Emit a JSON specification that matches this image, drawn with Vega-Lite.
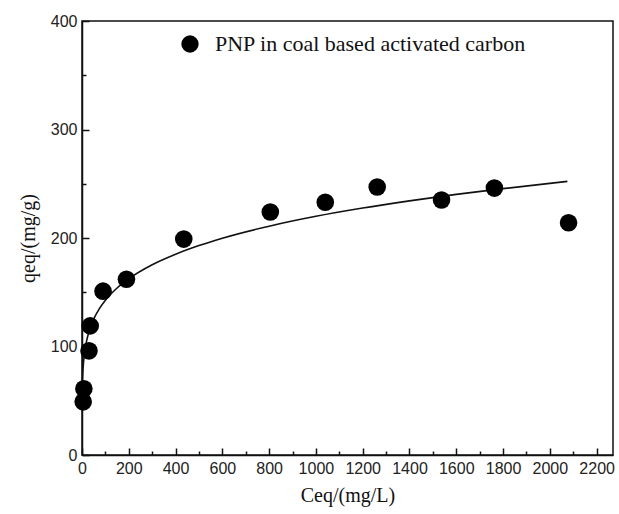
{
  "$schema": "https://vega.github.io/schema/vega-lite/v6.json",
  "autosize": "none",
  "width": 531,
  "height": 434,
  "padding": {"left": 82, "top": 21, "right": 6, "bottom": 59},
  "background": "white",
  "config": {
    "view": {"stroke": "#111", "strokeWidth": 1.5},
    "axis": {
      "domainColor": "#111", "domainWidth": 1.5, "tickColor": "#111", "tickWidth": 1.5,
      "grid": false, "labelFont": "Liberation Sans", "labelFontSize": 16, "labelColor": "#222",
      "titleFont": "Liberation Serif", "titleFontSize": 20, "titleFontWeight": "normal", "titleColor": "#111"
    }
  },
  "datasets": {
    "pts": [
      {"C": 5, "q": 49}, {"C": 8, "q": 61}, {"C": 30, "q": 96}, {"C": 35, "q": 119},
      {"C": 90, "q": 151}, {"C": 190, "q": 162}, {"C": 435, "q": 199}, {"C": 805, "q": 224},
      {"C": 1040, "q": 233}, {"C": 1262, "q": 247}, {"C": 1537, "q": 235}, {"C": 1763, "q": 246},
      {"C": 2080, "q": 214}
    ],
    "fit": [
      {"C": 0.5, "q": 52.7}, {"C": 1, "q": 60}, {"C": 2, "q": 68.3}, {"C": 5, "q": 81.2},
      {"C": 10, "q": 92.5}, {"C": 20, "q": 105.4}, {"C": 30, "q": 113.7}, {"C": 50, "q": 125.2},
      {"C": 75, "q": 135.1}, {"C": 100, "q": 142.6}, {"C": 150, "q": 153.9}, {"C": 200, "q": 162.4},
      {"C": 300, "q": 175.3}, {"C": 400, "q": 185.0}, {"C": 500, "q": 193.0}, {"C": 600, "q": 199.8},
      {"C": 800, "q": 210.9}, {"C": 1000, "q": 220.0}, {"C": 1200, "q": 227.6}, {"C": 1400, "q": 234.2},
      {"C": 1600, "q": 240.2}, {"C": 1800, "q": 245.5}, {"C": 2075, "q": 252.2}
    ]
  },
  "encoding": {
    "x": {
      "field": "C", "type": "quantitative",
      "scale": {"domain": [0, 2270], "nice": false, "zero": false},
      "axis": {
        "title": "Ceq/(mg/L)",
        "values": [0,100,200,300,400,500,600,700,800,900,1000,1100,1200,1300,1400,1500,1600,1700,1800,1900,2000,2100,2200],
        "labelExpr": "datum.value % 200 === 0 ? datum.label : ''",
        "format": "d",
        "tickSize": {"condition": {"test": "datum.value % 200 === 0", "value": -7}, "value": -4},
        "labelPadding": 12, "titlePadding": 6, "labelFlush": false, "labelOverlap": false
      }
    },
    "y": {
      "field": "q", "type": "quantitative",
      "scale": {"domain": [0, 400], "nice": false},
      "axis": {
        "title": "qeq/(mg/g)",
        "values": [0,50,100,150,200,250,300,350,400],
        "labelExpr": "datum.value % 100 === 0 ? datum.label : ''",
        "tickSize": {"condition": {"test": "datum.value % 100 === 0", "value": -7}, "value": -4},
        "labelPadding": 12, "titlePadding": 12, "labelFlush": false, "labelOverlap": false
      }
    }
  },
  "layer": [
    {
      "data": {"name": "fit"},
      "mark": {"type": "line", "color": "#111", "strokeWidth": 1.6, "interpolate": "monotone"}
    },
    {
      "data": {"name": "pts"},
      "mark": {"type": "point", "shape": "circle", "filled": true, "size": 310, "opacity": 1},
      "encoding": {
        "color": {
          "datum": "PNP in coal based activated carbon",
          "scale": {"range": ["#000"]},
          "legend": {
            "title": null, "orient": "none", "legendX": 97, "legendY": 12,
            "symbolType": "circle", "symbolSize": 300, "symbolFillColor": "#000", "symbolStrokeWidth": 0,
            "labelFont": "Liberation Serif", "labelFontSize": 22, "labelColor": "#111", "labelOffset": 14,
            "labelLimit": 500
          }
        }
      }
    }
  ]
}
